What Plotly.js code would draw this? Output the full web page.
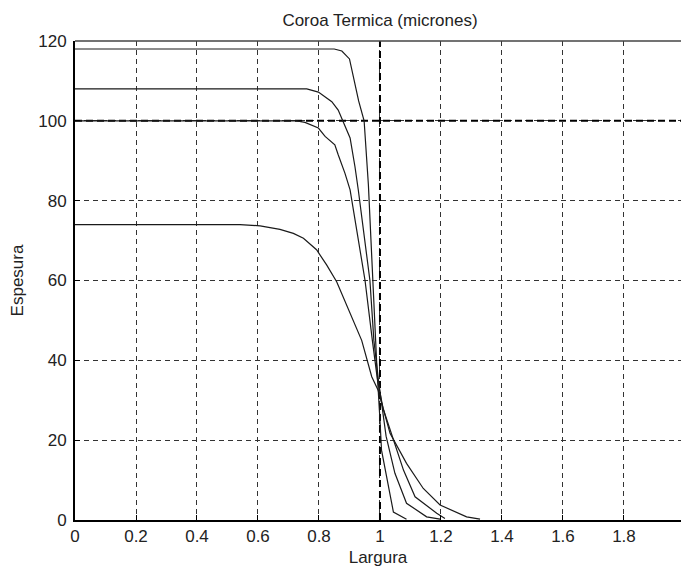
<!DOCTYPE html>
<html>
<head>
<meta charset="utf-8">
<script src="https://cdn.plot.ly/plotly-3.0.1.min.js"></script>
<style>
  html, body { margin: 0; padding: 0; background: #fff; overflow: hidden; }
  #chart { width: 681px; height: 571px; }
</style>
</head>
<body>
<div id="chart"></div>
<script>
// ---- data ----
const xA = [0, 0.85, 0.875, 0.90, 0.93, 0.948, 0.962, 0.976, 0.99, 1.0, 1.005, 1.044, 1.087];
const yA = [118, 118, 117.5, 115.5, 105, 100, 84, 60, 38, 25, 17.5, 2, 0.2];

const xB = [0, 0.76, 0.798, 0.842, 0.863, 0.88, 0.902, 0.918, 0.929, 0.967, 0.98, 0.995, 1.01, 1.02, 1.049, 1.087, 1.153, 1.197];
const yB = [108, 108, 107.2, 104.8, 102.7, 99.8, 95.7, 88.5, 82.6, 60, 45, 35, 26, 21, 11.7, 4.2, 0.8, 0.2];

const xC = [0, 0.727, 0.754, 0.798, 0.82, 0.852, 0.863, 0.885, 0.902, 0.951, 0.975, 0.992, 1.01, 1.044, 1.077, 1.115, 1.186, 1.213];
const yC = [100, 100, 99.6, 98.2, 96.1, 94, 91.5, 86.9, 82.7, 60, 45, 35, 28, 20, 12.5, 5.8, 1.7, 0.4];

const xD = [0, 0.541, 0.607, 0.672, 0.716, 0.749, 0.792, 0.825, 0.858, 0.902, 0.94, 0.973, 0.994, 1.033, 1.087, 1.142, 1.197, 1.284, 1.328];
const yD = [74, 74, 73.7, 72.8, 71.8, 70.6, 67.7, 63.9, 59.7, 52, 45, 35.9, 32.5, 21.7, 14.2, 7.9, 3.75, 0.8, 0.2];

// target (reference) width and thickness
const refWidthX = [1, 1];
const refWidthY = [0, 120];
const refThickX = [0, 2];
const refThickY = [100, 100];

const xTickVals = [0, 0.2, 0.4, 0.6, 0.8, 1, 1.2, 1.4, 1.6, 1.8];
const xTickText = ['0', '0.2', '0.4', '0.6', '0.8', '1', '1.2', '1.4', '1.6', '1.8'];
const yTickVals = [0, 20, 40, 60, 80, 100, 120];
const yTickText = ['0', '20', '40', '60', '80', '100', '120'];

const titleText = 'Coroa Termica (micrones)';
const xTitle = 'Largura';
const yTitle = 'Espesura';

// ---- chart ----
const FONT = 'Liberation Sans, Arial, sans-serif';
const curveStyle = { color: '#1a1a1a', width: 1.2 };
const refStyle = { color: '#000', width: 2, dash: '7px,4px' };

const traces = [
  { x: refThickX, y: refThickY, mode: 'lines', line: refStyle, hoverinfo: 'skip' },
  { x: refWidthX, y: refWidthY, mode: 'lines', line: refStyle, hoverinfo: 'skip' },
  { x: xD, y: yD, mode: 'lines', line: curveStyle },
  { x: xC, y: yC, mode: 'lines', line: curveStyle },
  { x: xB, y: yB, mode: 'lines', line: curveStyle },
  { x: xA, y: yA, mode: 'lines', line: curveStyle }
];

const layout = {
  width: 681,
  height: 571,
  margin: { l: 75, r: 0, t: 41, b: 51, pad: 0 },
  paper_bgcolor: '#fff',
  plot_bgcolor: '#fff',
  showlegend: false,
  font: { family: FONT, size: 17, color: '#222' },
  title: {
    text: titleText,
    font: { family: FONT, size: 17, color: '#222' },
    xref: 'container', x: 380 / 681, xanchor: 'center',
    yref: 'container', y: 1 - 20 / 571, yanchor: 'middle'
  },
  shapes: [
    { type: 'line', xref: 'paper', yref: 'paper', x0: 0, x1: 1, y0: 1, y1: 1,
      line: { color: '#444', width: 1.5 } }
  ],
  xaxis: {
    range: [0, 1.987],
    tickmode: 'array', tickvals: xTickVals, ticktext: xTickText,
    showgrid: true, gridcolor: '#333', gridwidth: 1, griddash: '5px,4px',
    zeroline: false,
    showline: true, linecolor: '#000', linewidth: 2, mirror: false,
    ticks: 'inside', ticklen: 5, tickcolor: '#000', tickwidth: 1,
    tickfont: { family: FONT, size: 17, color: '#222' },
    title: { text: xTitle, font: { family: FONT, size: 17, color: '#222' }, standoff: 6 }
  },
  yaxis: {
    range: [0, 120],
    tickmode: 'array', tickvals: yTickVals, ticktext: yTickText,
    showgrid: true, gridcolor: '#333', gridwidth: 1, griddash: '5px,4px',
    zeroline: false,
    showline: true, linecolor: '#000', linewidth: 2, mirror: false,
    ticks: 'inside', ticklen: 5, tickcolor: '#000', tickwidth: 1,
    ticklabelstandoff: 3,
    tickfont: { family: FONT, size: 17, color: '#222' },
    title: { text: yTitle, font: { family: FONT, size: 17, color: '#222' }, standoff: 10 }
  }
};

Plotly.newPlot('chart', traces, layout, { displayModeBar: false, staticPlot: true });
</script>
</body>
</html>
